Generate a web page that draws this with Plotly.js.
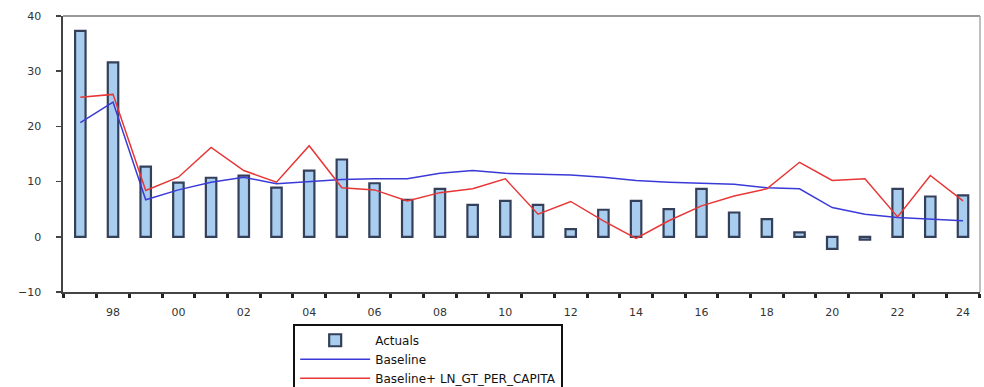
<!DOCTYPE html>
<html>
<head>
<meta charset="utf-8">
<script src="https://cdn.plot.ly/plotly-3.0.1.min.js"></script>
<style>html,body{margin:0;padding:0;background:#fff;}#chart{width:984px;height:387px;}</style>
</head>
<body>
<div id="chart"></div>
<script>
const years = [1997,1998,1999,2000,2001,2002,2003,2004,2005,2006,2007,2008,2009,2010,2011,2012,2013,2014,2015,2016,2017,2018,2019,2020,2021,2022,2023,2024];
const actuals = [37.3,31.6,12.7,9.8,10.7,11.1,8.9,12.0,14.0,9.7,6.7,8.7,5.8,6.5,5.8,1.4,4.9,6.5,5.0,8.7,4.4,3.2,0.8,-2.2,-0.5,8.7,7.3,7.5];
const baseline = [20.7,24.4,6.7,8.5,9.9,10.8,9.6,10.0,10.4,10.5,10.5,11.5,12.0,11.5,11.4,11.2,10.8,10.2,9.9,9.7,9.5,8.9,8.7,5.3,4.1,3.5,3.2,2.9];
const baselineGT = [25.3,25.8,8.4,10.8,16.2,12.0,9.9,16.5,8.9,8.5,6.5,8.0,8.7,10.5,4.1,6.4,2.9,-0.3,2.9,5.6,7.4,8.7,13.5,10.2,10.5,3.6,11.1,6.5];
const xTickVals = [1998,2000,2002,2004,2006,2008,2010,2012,2014,2016,2018,2020,2022,2024];
const xTickText = ["98","00","02","04","06","08","10","12","14","16","18","20","22","24"];
const yTickVals = [-10,0,10,20,30,40];
const seriesNames = ["Actuals","Baseline","Baseline+ LN_GT_PER_CAPITA"];

const xr = [1996.47, 2024.52];
const tickFont = {family: "DejaVu Sans, Liberation Sans, sans-serif", size: 11, color: "#333"};

const data = [
  {type: "bar", x: years, y: actuals, name: seriesNames[0], width: 0.32,
   marker: {color: "#a9cdee", line: {color: "#34405a", width: 2.2}}},
  {type: "scatter", mode: "lines", x: years, y: baseline, name: seriesNames[1],
   line: {color: "#3a3ad8", width: 1.5}},
  {type: "scatter", mode: "lines", x: years, y: baselineGT, name: seriesNames[2],
   line: {color: "#e83535", width: 1.5}}
];

const layout = {
  width: 984, height: 387,
  margin: {l: 63, r: 4, t: 16, b: 95, autoexpand: false},
  paper_bgcolor: "#fff", plot_bgcolor: "#fff",
  showlegend: true,
  bargap: 0,
  xaxis: {range: xr, tickmode: "array", tickvals: xTickVals, ticktext: xTickText,
          ticks: "outside", ticklen: 0.01, tickcolor: "rgba(0,0,0,0)",
          showgrid: false, zeroline: false, showline: true, linecolor: "#444", linewidth: 2,
          mirror: false, tickfont: tickFont, ticklabelstandoff: 9,
          minor: {tickmode: "linear", tick0: 1996.5, dtick: 1, ticks: "outside", ticklen: 4, tickwidth: 3,
                  tickcolor: "#222", showgrid: false}},
  yaxis: {range: [-10, 40], tickmode: "array", tickvals: yTickVals, ticks: "outside", ticklen: 5, tickwidth: 1.5,
          tickcolor: "#444", showgrid: false, zeroline: false, showline: true, linecolor: "#444", linewidth: 2.5,
          tickfont: tickFont, ticklabelstandoff: 12},
  shapes: [
    {type: "line", xref: "paper", yref: "paper", x0: 0, x1: 1, y0: 1, y1: 1, line: {color: "#999", width: 2}},
    {type: "line", xref: "paper", yref: "paper", x0: 1, x1: 1, y0: 0, y1: 1, line: {color: "#aaa", width: 1.5}}
  ],
  legend: {orientation: "v", x: 0.251, xanchor: "left", y: -0.115, yanchor: "top",
           bordercolor: "#111", borderwidth: 2, bgcolor: "#fff", itemwidth: 70,
           entrywidth: 420, entrywidthmode: "pixels",
           font: {family: "DejaVu Sans, Liberation Sans, sans-serif", size: 12, color: "#111"},
           tracegroupgap: 0, traceorder: "normal"}
};

Plotly.newPlot("chart", data, layout, {displayModeBar: false, staticPlot: true});
</script>
</body>
</html>
